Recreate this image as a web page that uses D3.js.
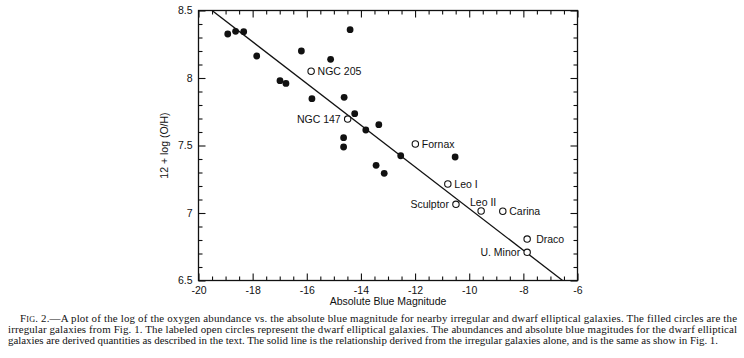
<!DOCTYPE html>
<html>
<head>
<meta charset="utf-8">
<script src="https://cdn.jsdelivr.net/npm/d3@7"></script>
<style>
  html, body { margin: 0; padding: 0; background: #fff; }
  svg { display: block; }
</style>
</head>
<body>
<svg id="chart" width="744" height="358"></svg>
<script>
// ---------- data ----------
// Irregular galaxies (filled circles): absolute blue magnitude, 12 + log(O/H)
const irrMag = [-18.92, -18.63, -18.33, -17.85, -16.20, -15.12, -14.40, -16.99, -16.77, -15.81,
                -14.62, -14.23, -13.82, -13.34, -14.64, -14.64, -13.44, -13.14, -12.53, -10.52];
const irrOH  = [8.326, 8.346, 8.343, 8.163, 8.20, 8.138, 8.358, 7.98, 7.96, 7.847,
                7.857, 7.736, 7.615, 7.654, 7.558, 7.489, 7.353, 7.294, 7.424, 7.415];

// Dwarf elliptical galaxies (labeled open circles)
const dEName = ["NGC 205", "NGC 147", "Fornax", "Leo I", "Sculptor", "Leo II", "Carina", "Draco", "U. Minor"];
const dEMag  = [-15.84, -14.49, -11.99, -10.79, -10.49, -9.56, -8.76, -7.86, -7.86];
const dEOH   = [8.05, 7.696, 7.511, 7.215, 7.064, 7.015, 7.013, 6.807, 6.709];
const dESide = ["right", "left", "right", "right", "left", "above", "right", "right", "left"];

// Fitted relationship (solid line) endpoints
const fitMag = [-19.5, -6.55];
const fitOH  = [8.5, 6.5];

// Axis ticks
const xMajorTicks = [-20, -18, -16, -14, -12, -10, -8, -6];
const yMajorTicks = [6.5, 7, 7.5, 8, 8.5];

const xTitle = "Absolute Blue Magnitude";
const yTitle = "12 + log (O/H)";

const captionLines = [
  "2.\u2014A plot of the log of the oxygen abundance vs. the absolute blue magnitude for nearby irregular and dwarf elliptical galaxies. The filled circles are the",
  "irregular galaxies from Fig. 1. The labeled open circles represent the dwarf elliptical galaxies. The abundances and absolute blue magitudes for the dwarf elliptical",
  "galaxies are derived quantities as described in the text. The solid line is the relationship derived from the irregular galaxies alone, and is the same as show in Fig. 1."
];

// ---------- layout ----------
const svg = d3.select("#chart");
const L = 198.5, R = 577.5, T = 10.5, B = 280.5;
const x = d3.scaleLinear().domain([-20, -6]).range([L, R]);
const y = d3.scaleLinear().domain([6.5, 8.5]).range([B, T]);

const sans = "'Liberation Sans', Arial, Helvetica, sans-serif";
const serif = "'Liberation Serif', 'Times New Roman', Times, serif";
const ink = "#111";

// frame
svg.append("rect")
  .attr("x", L).attr("y", T).attr("width", R - L).attr("height", B - T)
  .attr("fill", "none").attr("stroke", ink).attr("stroke-width", 1.3);

const xMinor = d3.range(-20, -6 + 0.001, 0.5);
const yMinor = d3.range(6.5, 8.5 + 0.001, 0.1);
const isMajorX = v => xMajorTicks.some(t => Math.abs(t - v) < 1e-6);
const isMajorY = v => yMajorTicks.some(t => Math.abs(t - v) < 1e-6);

function styleAxis(g) {
  g.select(".domain").remove();
  g.selectAll(".tick line").attr("stroke", ink).attr("stroke-width", 1.1);
}

// bottom axis: inward ticks
const gxB = svg.append("g").attr("transform", `translate(0,${B})`)
  .call(d3.axisBottom(x).tickValues(xMinor)
    .tickSizeInner(0).tickSizeOuter(0).tickPadding(5)
    .tickFormat(v => isMajorX(v) ? d3.format("d")(v).replace("\u2212", "-") : ""));
styleAxis(gxB);
gxB.selectAll(".tick line").attr("y2", d => isMajorX(d) ? -7 : -4);
gxB.selectAll(".tick text").attr("font-family", sans).attr("font-size", 10.5).attr("fill", ink)
  .attr("dy", "0.75em").attr("y", 6);

// top axis: inward ticks
const gxT = svg.append("g").attr("transform", `translate(0,${T})`)
  .call(d3.axisTop(x).tickValues(xMinor).tickSizeInner(0).tickSizeOuter(0).tickFormat(""));
styleAxis(gxT);
gxT.selectAll(".tick line").attr("y2", d => isMajorX(d) ? 7 : 4);

// left axis
const gyL = svg.append("g").attr("transform", `translate(${L},0)`)
  .call(d3.axisLeft(y).tickValues(yMinor).tickSizeInner(0).tickSizeOuter(0).tickPadding(6)
    .tickFormat(v => isMajorY(v) ? d3.format("")(+v.toFixed(1)) : ""));
styleAxis(gyL);
gyL.selectAll(".tick line").attr("x2", d => isMajorY(d) ? 7 : 4);
gyL.selectAll(".tick text").attr("font-family", sans).attr("font-size", 10.5).attr("fill", ink);

// right axis
const gyR = svg.append("g").attr("transform", `translate(${R},0)`)
  .call(d3.axisRight(y).tickValues(yMinor).tickSizeInner(0).tickSizeOuter(0).tickFormat(""));
styleAxis(gyR);
gyR.selectAll(".tick line").attr("x2", d => isMajorY(d) ? -7 : -4);

// axis titles
svg.append("text").attr("x", (L + R) / 2).attr("y", 305)
  .attr("text-anchor", "middle").attr("font-family", sans).attr("font-size", 10.5).attr("fill", ink)
  .text(xTitle);
svg.append("text")
  .attr("transform", `translate(168,${(T + B) / 2}) rotate(-90)`)
  .attr("text-anchor", "middle").attr("font-family", sans).attr("font-size", 10.5).attr("fill", ink)
  .text(yTitle);

// fit line
const clipId = "plotclip";
svg.append("clipPath").attr("id", clipId).append("rect")
  .attr("x", L).attr("y", T).attr("width", R - L).attr("height", B - T);
svg.append("path")
  .datum(fitMag.map((m, i) => [m, fitOH[i]]))
  .attr("d", d3.line().x(d => x(d[0])).y(d => y(d[1])))
  .attr("fill", "none").attr("stroke", ink).attr("stroke-width", 1.3)
  .attr("clip-path", `url(#${clipId})`);

// filled circles
svg.append("g").selectAll("circle")
  .data(irrMag.map((m, i) => ({ m, oh: irrOH[i] })))
  .join("circle")
  .attr("cx", d => x(d.m)).attr("cy", d => y(d.oh)).attr("r", 3.4)
  .attr("fill", ink);

// open circles + labels
const dE = dEName.map((n, i) => ({ n, m: dEMag[i], oh: dEOH[i], side: dESide[i] }));
svg.append("g").selectAll("circle")
  .data(dE).join("circle")
  .attr("cx", d => x(d.m)).attr("cy", d => y(d.oh)).attr("r", 3.2)
  .attr("fill", "#fff").attr("stroke", ink).attr("stroke-width", 1.1);

svg.append("g").selectAll("text")
  .data(dE).join("text")
  .attr("font-family", sans).attr("font-size", 10.5).attr("fill", ink)
  .attr("x", d => d.side === "right" ? x(d.m) + (d.n === "Draco" ? 9 : 6.5)
                 : d.side === "left" ? x(d.m) - 7 : x(d.m) + 2)
  .attr("y", d => d.side === "above" ? y(d.oh) - 8.5 : y(d.oh))
  .attr("dy", "0.35em")
  .attr("text-anchor", d => d.side === "right" ? "start" : d.side === "left" ? "end" : "middle")
  .text(d => d.n);

// caption
const cap = svg.append("g").attr("font-family", serif).attr("font-size", 10.9).attr("fill", ink);
const l1 = cap.append("text").attr("x", 20).attr("y", 321.5)
  .attr("textLength", 717).attr("lengthAdjust", "spacing");
l1.append("tspan").text("F");
l1.append("tspan").attr("font-size", 8.2).text("IG");
l1.append("tspan").text(". " + captionLines[0]);
cap.append("text").attr("x", 8).attr("y", 332.5)
  .attr("textLength", 729).attr("lengthAdjust", "spacing").text(captionLines[1]);
cap.append("text").attr("x", 8).attr("y", 343.5)
  .attr("textLength", 710).attr("lengthAdjust", "spacing").text(captionLines[2]);
</script>
</body>
</html>
